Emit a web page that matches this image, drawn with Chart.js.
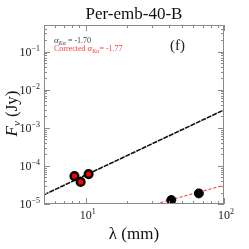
<!DOCTYPE html>
<html>
<head>
<meta charset="utf-8">
<script src="https://cdn.jsdelivr.net/npm/chart.js@4"></script>
<style>
  body { margin: 0; background: #fff; }
  canvas { display: block; }
</style>
</head>
<body>
<canvas id="chart" width="249" height="249"></canvas>
<script>
// measured fluxes (lambda in mm, F in Jy)
const lamRed = [8.3, 9.2, 10.5];
const fluxRed = [5.4e-5, 3.8e-5, 6.1e-5];
const lamBlack = [41.6, 65.8];
const fluxBlack = [1.27e-5, 1.9e-5];
// fitted power laws
const fitLam = [5, 100];
const fitFlux = [1.75e-5, 2.95e-3];
const corrLam = [32, 100];
const corrFlux = [1.0e-5, 3.1e-5];
// tick labels
const xTickVals = [10, 100];
const xTickExp = ["1", "2"];
const yTickVals = [1e-5, 1e-4, 1e-3, 1e-2, 1e-1];
const yTickExp = ["\u22125", "\u22124", "\u22123", "\u22122", "\u22121"];

const serif = "'Liberation Serif', 'DejaVu Serif', serif";
const axisGrey = "#8a8a8a";

const toXY = (xs, ys) => xs.map((x, i) => ({ x: x, y: ys[i] }));

const decorations = {
  id: "decorations",
  afterDraw(chart) {
    const ctx = chart.ctx;
    const a = chart.chartArea;
    const sx = chart.scales.x;
    const sy = chart.scales.y;
    ctx.save();

    // frame
    ctx.strokeStyle = axisGrey;
    ctx.lineWidth = 1;
    ctx.strokeRect(a.left + 0.5, a.top + 0.5, a.right - a.left - 1, a.bottom - a.top - 1);

    // ticks, mirrored on all sides
    const xTicks = [];
    for (let d = 1; d <= 100; d *= 10) {
      for (let m = 1; m < 10; m++) {
        const v = m * d;
        if (v >= 5 && v <= 100) xTicks.push([v, m === 1]);
      }
    }
    xTicks.forEach(([v, major]) => {
      const px = Math.round(sx.getPixelForValue(v)) + 0.5;
      const len = major ? 6 : 3;
      ctx.beginPath();
      ctx.moveTo(px, a.bottom);
      ctx.lineTo(px, a.bottom - len);
      ctx.moveTo(px, a.top);
      ctx.lineTo(px, a.top + len);
      ctx.stroke();
    });
    for (let d = 1e-5; d < 1; d *= 10) {
      for (let m = 1; m < 10; m++) {
        const v = m * d;
        if (v > 0.5) continue;
        const py = Math.round(sy.getPixelForValue(v)) + 0.5;
        const len = m === 1 ? 6 : 3;
        ctx.beginPath();
        ctx.moveTo(a.left, py);
        ctx.lineTo(a.left + len, py);
        ctx.moveTo(a.right, py);
        ctx.lineTo(a.right - len, py);
        ctx.stroke();
      }
    }

    // tick labels with superscripts
    ctx.fillStyle = "#222";
    ctx.textBaseline = "alphabetic";
    const powLabel = (x, y, exp, align) => {
      ctx.font = "12px " + serif;
      const wb = ctx.measureText("10").width;
      ctx.font = "8px " + serif;
      const we = ctx.measureText(exp).width;
      let left = align === "right" ? x - wb - we : x - (wb + we) / 2;
      ctx.font = "12px " + serif;
      ctx.textAlign = "left";
      ctx.fillText("10", left, y);
      ctx.font = "8px " + serif;
      ctx.fillText(exp, left + wb, y - 5);
    };
    yTickVals.forEach((v, i) => {
      const py = sy.getPixelForValue(v);
      powLabel(a.left - 4, py + 4, yTickExp[i], "right");
    });
    xTickVals.forEach((v, i) => {
      const px = sx.getPixelForValue(v);
      powLabel(px + 2, a.bottom + 15, xTickExp[i], "center");
    });

    // title
    ctx.textAlign = "center";
    ctx.font = "17px " + serif;
    ctx.fillStyle = "#111";
    ctx.fillText("Per-emb-40-B", (a.left + a.right) / 2, 19);

    // x axis title
    ctx.font = "17px " + serif;
    ctx.fillText("\u03bb (mm)", (a.left + a.right) / 2, 239);

    // y axis title
    ctx.save();
    ctx.translate(17, (a.top + a.bottom) / 2 - 1);
    ctx.rotate(-Math.PI / 2);
    ctx.textAlign = "left";
    ctx.font = "italic 17px " + serif;
    const fW = ctx.measureText("F").width;
    ctx.font = "italic 11px " + serif;
    const nuW = ctx.measureText("\u03bd").width;
    ctx.font = "17px " + serif;
    const jyW = ctx.measureText(" (Jy)").width;
    let yx = -(fW + nuW + jyW) / 2;
    ctx.font = "italic 17px " + serif;
    ctx.fillText("F", yx, 0);
    ctx.font = "italic 11px " + serif;
    ctx.fillText("\u03bd", yx + fW, 3);
    ctx.font = "17px " + serif;
    ctx.fillText(" (Jy)", yx + fW + nuW, 0);
    ctx.restore();

    // panel tag
    ctx.textAlign = "left";
    ctx.font = "15px " + serif;
    ctx.fillStyle = "#222";
    ctx.fillText("(f)", 170, 50);

    // alpha annotations
    const alphaText = (x, y, pre, post, color) => {
      ctx.fillStyle = color;
      ctx.textAlign = "left";
      ctx.font = "8px " + serif;
      ctx.fillText(pre, x, y);
      x += ctx.measureText(pre).width;
      ctx.font = "italic 9px " + serif;
      ctx.fillText("\u03b1", x, y);
      x += ctx.measureText("\u03b1").width;
      ctx.font = "italic 6px " + serif;
      ctx.fillText("K\u03b1", x, y + 2);
      x += ctx.measureText("K\u03b1").width;
      ctx.font = "8px " + serif;
      ctx.fillText(post, x, y);
    };
    alphaText(54, 43, "", " = -1.70", "#444");
    alphaText(54, 51, "Corrected ", "= -1.77", "#ff3b3b");

    ctx.restore();
  }
};

new Chart(document.getElementById("chart"), {
  type: "scatter",
  data: {
    datasets: [
      {
        data: toXY(lamRed, fluxRed),
        backgroundColor: "#ff0000",
        borderColor: "#000",
        borderWidth: 2.5,
        pointRadius: 3.8,
        order: 1
      },
      {
        data: toXY(lamBlack, fluxBlack),
        backgroundColor: "#000",
        borderColor: "#000",
        borderWidth: 1,
        pointRadius: 4.5,
        order: 1
      },
      {
        type: "line",
        data: toXY(fitLam, fitFlux),
        borderColor: "#111",
        borderWidth: 1.6,
        borderDash: [5, 1],
        pointRadius: 0,
        order: 2
      },
      {
        type: "line",
        data: toXY(corrLam, corrFlux),
        borderColor: "#ff2222",
        borderWidth: 1,
        borderDash: [3, 2],
        pointRadius: 0,
        order: 2
      }
    ]
  },
  options: {
    responsive: false,
    animation: false,
    layout: { padding: { left: 44, right: 25, top: 25, bottom: 45 } },
    plugins: {
      legend: { display: false },
      tooltip: { enabled: false }
    },
    scales: {
      x: { type: "logarithmic", min: 5, max: 100, display: false },
      y: { type: "logarithmic", min: 1e-5, max: 0.5, display: false }
    }
  },
  plugins: [decorations]
});
</script>
</body>
</html>
